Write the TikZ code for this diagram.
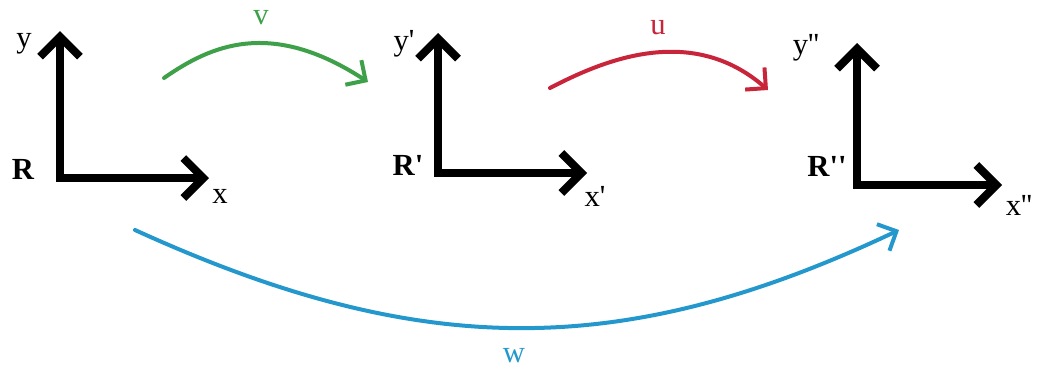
\documentclass[tikz,border=0pt]{standalone}
\usepackage{fontspec}
\setmainfont{Liberation Serif}[Ligatures=TeXOff]
\usetikzlibrary{arrows.meta}
\definecolor{vgreen}{RGB}{62,160,72}
\definecolor{ured}{RGB}{200,36,58}
\definecolor{wblue}{RGB}{36,152,204}

\begin{document}
\begin{tikzpicture}[x=0.75pt,y=-0.75pt,
  axes/.style={line width=6pt, line join=miter,
    {Straight Barb[length=15pt,width=30pt]}-{Straight Barb[length=15pt,width=30pt]}},
  move/.style={line width=3pt, line cap=round, -{Straight Barb[length=11pt,width=22pt]}},
  lbl/.style={inner sep=0pt, font=\fontsize{23}{26}\selectfont}]
\useasboundingbox (0,0) rectangle (1040,368);
\coordinate (o1) at (60,178);
\coordinate (y1) at (60,31);
\coordinate (x1) at (209,178);
\coordinate (o2) at (438,173);
\coordinate (y2) at (438,33);
\coordinate (x2) at (587,173);
\coordinate (o3) at (857,185);
\coordinate (y3) at (857,43);
\coordinate (x3) at (1002,185);
\draw[axes] (y1) -- (o1) -- (x1);
\draw[axes] (y2) -- (o2) -- (x2);
\draw[axes] (y3) -- (o3) -- (x3);
\node[lbl] (ly1) at (24,44) {y};
\node[lbl, font=\fontsize{23}{26}\selectfont\bfseries] (lr1) at (23,169) {R};
\node[lbl] (lx1) at (220,196) {x};
\node[lbl] (ly2) at (404,44) {y'};
\node[lbl, font=\fontsize{23}{26}\selectfont\bfseries] (lr2) at (408,165) {R'};
\node[lbl] (lx2) at (595,196) {x'};
\node[lbl] (ly3) at (806,48) {y''};
\node[lbl, font=\fontsize{23}{26}\selectfont\bfseries] (lr3) at (827,166) {R''};
\node[lbl] (lx3) at (1019,205) {x''};
\coordinate (vs) at (164,78);
\coordinate (ve) at (368,82);
\coordinate (us) at (550,88);
\coordinate (ue) at (768,90);
\coordinate (ws) at (135,230);
\coordinate (we) at (899,230);
\draw[move, vgreen] (vs) .. controls (210,46) and (270,18) .. (ve);
\draw[move, ured] (us) .. controls (600,62) and (690,22) .. (ue);
\draw[move, wblue] (ws) .. controls (420,360) and (622,361) .. (we);
\node[lbl, text=vgreen] (lv) at (261,18) {v};
\node[lbl, text=ured] (lu) at (658,28) {u};
\node[lbl, text=wblue] (lw) at (514,356) {w};
\end{tikzpicture}
\end{document}
